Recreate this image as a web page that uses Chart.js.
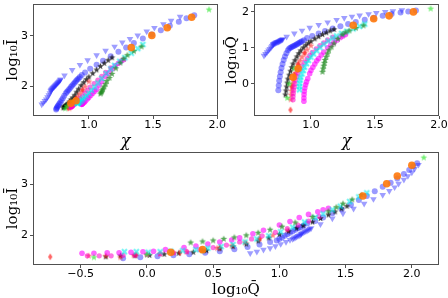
<!DOCTYPE html>
<html><head><meta charset="utf-8">
<script src="https://cdn.jsdelivr.net/npm/chart.js@4/dist/chart.umd.min.js"></script>
<style>
html,body{margin:0;padding:0;background:#fff;width:448px;height:298px;overflow:hidden;position:relative}
canvas{position:absolute}
</style></head><body>
<canvas id="cA" width="232" height="150" style="left:0;top:0;width:232px;height:150px"></canvas>
<canvas id="cB" width="232" height="150" style="left:216px;top:0;width:232px;height:150px"></canvas>
<canvas id="cC" width="448" height="150" style="left:0;top:148px;width:448px;height:150px"></canvas>
<script>
// ---- data (chi, log10 Q, log10 I) per series ----
const triChi = [0.633,0.645,0.657,0.668,0.678,0.688,0.696,0.703,0.705,0.71,0.715,0.72,0.725,0.73,0.735,0.74,0.745,0.75,0.755,0.76,0.765,0.77,0.775,0.78,0.81,0.87,0.93,0.99,1.06,1.13,1.20,1.26,1.32,1.38,1.45,1.51,1.58,1.64,1.71];
const triQ   = [0.78,0.83,0.88,0.93,0.97,1.01,1.05,1.08,1.10,1.11,1.12,1.13,1.14,1.15,1.16,1.165,1.17,1.18,1.19,1.20,1.21,1.22,1.23,1.24,1.31,1.40,1.48,1.56,1.64,1.71,1.78,1.83,1.87,1.90,1.94,1.97,2.00,2.02,2.05];
const triI   = [1.65,1.68,1.72,1.75,1.79,1.83,1.87,1.91,1.93,1.945,1.96,1.975,1.99,2.0,2.015,2.03,2.04,2.055,2.07,2.08,2.095,2.11,2.125,2.14,2.22,2.33,2.43,2.52,2.62,2.71,2.79,2.87,2.94,3.01,3.09,3.16,3.23,3.30,3.38];

const cirChi = [0.745,0.748,0.752,0.757,0.763,0.77,0.778,0.787,0.797,0.808,0.82,0.83,0.84,0.85,0.86,0.87,0.88,0.89,0.90,0.91,0.92,0.93,0.945,0.97,1.01,1.06,1.11,1.17,1.23,1.29,1.35,1.42,1.49,1.56,1.63,1.70,1.76,1.82];
const cirQ   = [-0.18,-0.05,0.08,0.2,0.32,0.44,0.55,0.66,0.76,0.85,0.93,0.98,1.0,1.02,1.04,1.06,1.08,1.10,1.12,1.14,1.16,1.18,1.21,1.27,1.33,1.40,1.47,1.54,1.60,1.66,1.72,1.78,1.84,1.89,1.94,1.98,2.01,2.04];
const cirI   = [1.55,1.57,1.59,1.61,1.63,1.66,1.69,1.73,1.77,1.82,1.87,1.90,1.93,1.96,1.99,2.02,2.05,2.08,2.11,2.14,2.16,2.19,2.23,2.28,2.35,2.43,2.51,2.60,2.69,2.77,2.86,2.95,3.03,3.11,3.20,3.28,3.35,3.41];

const blkChi = [0.80,0.805,0.81,0.815,0.82,0.83,0.84,0.85,0.86,0.875,0.89,0.905,0.92,0.94,0.96,0.98,1.0,1.03,1.06,1.09,1.12,1.15,1.18];
const blkQ   = [-0.31,-0.2,-0.09,0.02,0.13,0.24,0.35,0.45,0.55,0.65,0.75,0.84,0.92,1.0,1.07,1.13,1.18,1.25,1.31,1.37,1.42,1.47,1.51];
const blkI   = [1.58,1.6,1.6,1.61,1.63,1.65,1.67,1.7,1.74,1.78,1.83,1.89,1.95,2.02,2.08,2.14,2.19,2.26,2.33,2.4,2.46,2.52,2.57];

const rdChi = [0.84,0.85,0.87,0.9,0.95];
const rdQ   = [-0.73,-0.08,0.25,0.55,0.85];
const rdI   = [1.58,1.62,1.66,1.76,1.93];

const rsChi = [0.842,0.845,0.848,0.852,0.857,0.863,0.87,0.88,0.89,0.9,0.915,0.93,0.95,0.97,1.0];
const rsQ   = [-0.44,-0.31,-0.2,-0.1,0.0,0.1,0.2,0.3,0.42,0.53,0.64,0.74,0.85,0.95,1.06];
const rsI   = [1.6,1.6,1.57,1.61,1.63,1.64,1.66,1.68,1.71,1.75,1.8,1.86,1.93,2.0,2.1];

const m1Chi = [0.86,0.86,0.862,0.865,0.87,0.875,0.88,0.89,0.9,0.915,0.93,0.95,0.97,0.99,1.01,1.04,1.07,1.1,1.13,1.17];
const m1Q   = [-0.45,-0.36,-0.27,-0.18,-0.09,0.0,0.1,0.2,0.3,0.4,0.5,0.6,0.7,0.79,0.87,0.97,1.06,1.14,1.22,1.3];
const m1I   = [1.6,1.6,1.6,1.61,1.61,1.62,1.64,1.66,1.68,1.72,1.76,1.81,1.87,1.93,1.99,2.06,2.13,2.2,2.28,2.37];

const m2Chi = [0.945,0.945,0.946,0.948,0.952,0.958,0.965,0.975,0.99,1.0,1.015,1.03,1.045,1.06,1.08,1.1,1.13,1.155,1.18,1.205,1.23,1.25,1.27];
const m2Q   = [-0.49,-0.40,-0.30,-0.21,-0.12,-0.03,0.05,0.14,0.28,0.37,0.46,0.55,0.64,0.7,0.8,0.88,1.0,1.08,1.15,1.22,1.29,1.33,1.37];
const m2I   = [1.65,1.65,1.66,1.66,1.67,1.68,1.69,1.72,1.76,1.79,1.83,1.87,1.91,1.95,2.03,2.1,2.2,2.27,2.35,2.41,2.46,2.5,2.53];

const cyChi = [0.91,0.91,0.912,0.915,0.92,0.93,0.94,0.95,0.965,0.98,1.0,1.02,1.045,1.07,1.10,1.135,1.17,1.2,1.24,1.28,1.33,1.38,1.42];
const cyQ   = [-0.17,-0.08,0.01,0.1,0.18,0.27,0.37,0.46,0.56,0.65,0.74,0.83,0.92,1.01,1.1,1.19,1.27,1.33,1.4,1.46,1.53,1.6,1.66];
const cyI   = [1.68,1.68,1.67,1.68,1.69,1.7,1.72,1.75,1.78,1.82,1.87,1.93,1.99,2.07,2.16,2.26,2.35,2.42,2.5,2.57,2.66,2.75,2.83];

const grChi = [1.09,1.095,1.10,1.105,1.11,1.12,1.13,1.14,1.16,1.18,1.21,1.245,1.27,1.30,1.35,1.41];
const grQ   = [0.33,0.42,0.5,0.58,0.66,0.75,0.84,0.93,1.02,1.12,1.25,1.37,1.43,1.48,1.55,1.62];
const grI   = [1.86,1.88,1.9,1.93,1.96,2.0,2.05,2.11,2.17,2.25,2.36,2.47,2.55,2.62,2.7,2.79];

const lmChi = [0.815,0.83,0.87,1.935];
const lmQ   = [-0.40,0.0,0.42,2.09];
const lmI   = [1.57,1.62,1.7,3.52];

const orChi = [0.86,0.9,1.33,1.49,1.61,1.8];
const orQ   = [0.18,0.42,1.63,1.81,1.89,2.0];
const orI   = [1.67,1.72,2.77,3.01,3.16,3.37];

// tick labels
const chiTicks = [1.0, 1.5, 2.0];
const logITicks = [2, 3];
const logQTicksY = [0, 1, 2];
const logQTicksX = [-0.5, 0.0, 0.5, 1.0, 1.5, 2.0];

// ---- marker images ----
function mk(size, draw){const c=document.createElement('canvas');c.width=c.height=size;const g=c.getContext('2d');draw(g,size/2);return c;}
function star(color,R){return mk(Math.ceil(2*R+2),(g,m)=>{g.fillStyle=color;g.beginPath();for(let k=0;k<10;k++){const r=k%2?R*0.42:R;const a=-Math.PI/2+k*Math.PI/5;g.lineTo(m+r*Math.cos(a),m+r*Math.sin(a));}g.closePath();g.fill();});}
function thinDiamond(color,R){return mk(Math.ceil(2*R+2),(g,m)=>{g.fillStyle=color;g.beginPath();g.moveTo(m,m-R);g.lineTo(m+0.6*R,m);g.lineTo(m,m+R);g.lineTo(m-0.6*R,m);g.closePath();g.fill();});}
function xMark(color,R){return mk(Math.ceil(2*R+2),(g,m)=>{g.fillStyle=color;g.beginPath();const w=R*0.45;const p=[[-R,-R+w],[-R+w,-R],[0,-w],[R-w,-R],[R,-R+w],[w,0],[R,R-w],[R-w,R],[0,w],[-R+w,R],[-R,R-w],[-w,0]];p.forEach(([x,y],i)=>i?g.lineTo(m+x,m+y):g.moveTo(m+x,m+y));g.closePath();g.fill();});}

const series = [
  {chi:orChi,q:orQ,I:orI,style:'circle',r:3.8,color:'rgba(255,120,10,0.9)'},
  {chi:lmChi,q:lmQ,I:lmI,style:star('rgba(40,230,40,0.65)',3.6)},
  {chi:grChi,q:grQ,I:grI,style:star('rgba(34,139,34,0.75)',3.6)},
  {chi:cyChi,q:cyQ,I:cyI,style:xMark('rgba(0,235,235,0.6)',3.2)},
  {chi:m2Chi,q:m2Q,I:m2I,style:'circle',r:2.8,color:'rgba(255,0,255,0.6)'},
  {chi:m1Chi,q:m1Q,I:m1I,style:'circle',r:2.6,color:'rgba(255,0,200,0.55)'},
  {chi:rsChi,q:rsQ,I:rsI,style:star('rgba(255,40,40,0.6)',3.6)},
  {chi:rdChi,q:rdQ,I:rdI,style:thinDiamond('rgba(255,0,0,0.6)',3.6)},
  {chi:blkChi,q:blkQ,I:blkI,style:star('rgba(0,0,0,0.75)',3.4)},
  {chi:cirChi,q:cirQ,I:cirI,style:'circle',r:3.0,color:'rgba(30,30,255,0.45)'},
  {chi:triChi,q:triQ,I:triI,style:'triangle',rot:180,r:3.8,color:'rgba(40,40,255,0.45)'}
];

function datasets(xk,yk){
  return series.map(s=>({
    data: s[xk].map((v,i)=>({x:v,y:s[yk][i]})),
    pointStyle: s.style,
    pointRadius: s.r||3,
    pointRotation: s.rot||0,
    backgroundColor: s.color||'#000',
    borderWidth: 0,
    showLine:false
  }));
}

const fmt1 = v => (v<0?'\u2212':'') + Math.abs(v).toFixed(1);
const fmt0 = v => (v<0?'\u2212':'') + Math.abs(v).toFixed(0);

const frame = {id:'frame', afterDatasetsDraw(chart){const {ctx,chartArea:a}=chart;ctx.save();ctx.strokeStyle='#505050';ctx.lineWidth=1;ctx.strokeRect(Math.round(a.left)+0.5,Math.round(a.top)+0.5,Math.round(a.right-a.left)-1,Math.round(a.bottom-a.top)-1);ctx.restore();}};

function axis(o){
  const horiz = o.horiz;
  return {
    type:'linear', min:o.min, max:o.max, bounds:'data',
    afterBuildTicks: s => { s.ticks = o.ticks.map(v=>({value:v})); },
    afterFit: s => { if(horiz){s.height=o.size;s.paddingLeft=0;s.paddingRight=0;} else {s.width=o.size;s.paddingTop=0;s.paddingBottom=0;} },
    ticks:{callback:o.fmt, autoSkip:false, maxRotation:0, color:'#000', padding: horiz?1:2, font:{family:'DejaVu Sans',size:11,lineHeight:1}},
    grid:{drawOnChartArea:false, drawTicks:true, tickLength:3, tickColor:'#505050', color:'#505050'},
    border:{display:false},
    title:{display:true, text:o.title, color:'#000', padding: horiz?{top:0,bottom:o.tpad}:{top:o.tpad,bottom:0}, font:{family:'DejaVu Serif', size:o.tsize, lineHeight:1, style:o.italic?'italic':'normal'}}
  };
}

function make(id, xk, yk, xo, yo, pad){
  new Chart(document.getElementById(id), {
    type:'scatter',
    data:{datasets:datasets(xk,yk)},
    options:{
      responsive:false, animation:false, devicePixelRatio:1,
      layout:{padding:pad},
      plugins:{legend:{display:false}, tooltip:{enabled:false}},
      scales:{x:axis(Object.assign({horiz:true},xo)), y:axis(Object.assign({horiz:false},yo))}
    },
    plugins:[frame]
  });
}

make('cA','chi','I',
  {min:0.565,max:2.005,ticks:chiTicks,fmt:fmt1,size:34,title:'\u03C7',tsize:16,italic:true,tpad:0},
  {min:1.42,max:3.63,ticks:logITicks,fmt:fmt0,size:33,title:'log\u2081\u2080\u012A',tsize:15,tpad:6},
  {top:2,right:14,left:0,bottom:0});
make('cB','chi','q',
  {min:0.555,max:2.0,ticks:chiTicks,fmt:fmt1,size:34,title:'\u03C7',tsize:16,italic:true,tpad:0},
  {min:-0.9,max:2.22,ticks:logQTicksY,fmt:fmt0,size:38,title:'log\u2081\u2080Q\u0304',tsize:15,tpad:9},
  {top:2,right:9,left:0,bottom:0});
make('cC','q','I',
  {min:-0.86,max:2.205,ticks:logQTicksX,fmt:fmt1,size:33,title:'log\u2081\u2080Q\u0304',tsize:15,tpad:0.5},
  {min:1.42,max:3.63,ticks:logITicks,fmt:fmt0,size:33,title:'log\u2081\u2080\u012A',tsize:15,tpad:6},
  {top:2,right:9,left:0,bottom:0});
</script>
</body></html>
